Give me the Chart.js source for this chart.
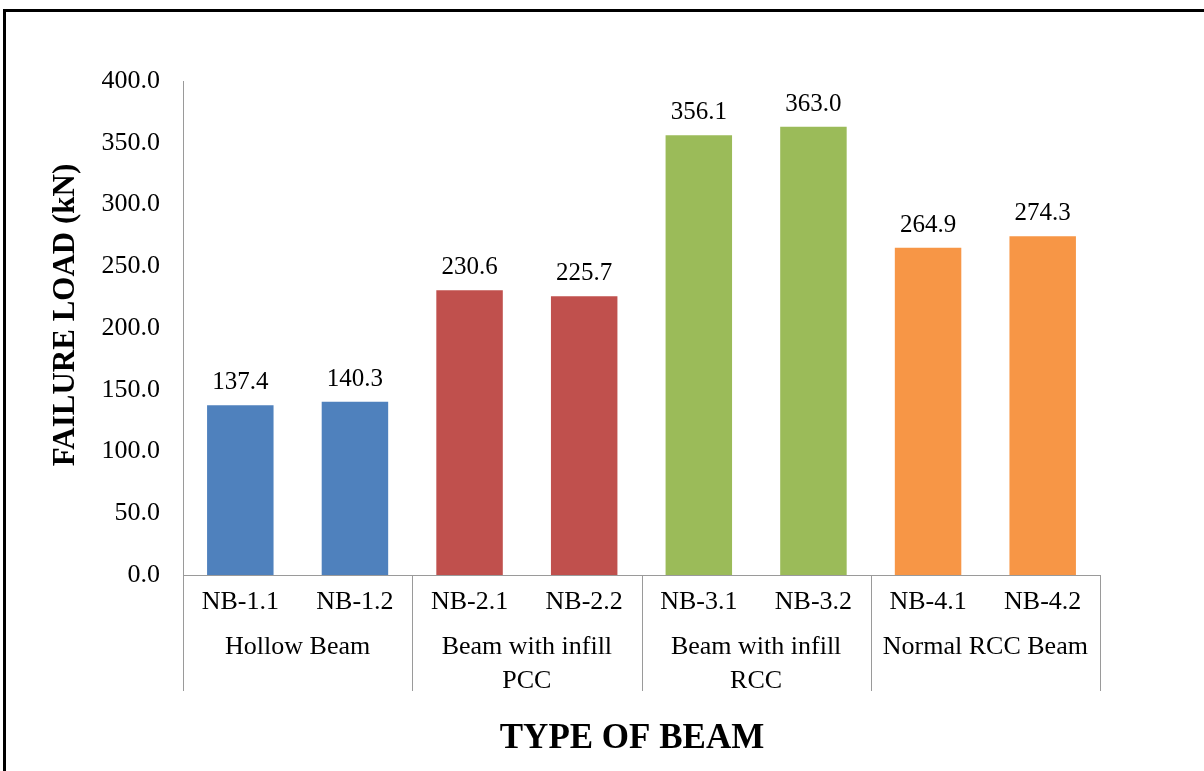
<!DOCTYPE html>
<html>
<head>
<meta charset="utf-8">
<script src="https://cdn.jsdelivr.net/npm/chart.js@4/dist/chart.umd.min.js"></script>
<style>
  html, body { margin: 0; padding: 0; background: #fff; }
  #wrap { position: relative; width: 1204px; height: 771px; overflow: hidden; }
  #frame { position: absolute; left: 3px; top: 9px; width: 1300px; height: 900px;
           border-left: 3px solid #000; border-top: 3px solid #000; pointer-events: none; }
  canvas { position: absolute; left: 0; top: 0; }
</style>
</head>
<body>
<div id="wrap">
  <canvas id="c" width="1204" height="771"></canvas>
  <div id="frame"></div>
</div>
<script>
// Beam specimens and their failure loads (kN)
const specimens = ['NB-1.1', 'NB-1.2', 'NB-2.1', 'NB-2.2', 'NB-3.1', 'NB-3.2', 'NB-4.1', 'NB-4.2'];
const failureLoad = [137.4, 140.3, 230.6, 225.7, 356.1, 363.0, 264.9, 274.3];
// Beam types, each covering two specimens
const beamTypes = [['Hollow Beam'], ['Beam with infill', 'PCC'], ['Beam with infill', 'RCC'], ['Normal RCC Beam']];
const specimensPerType = 2;
const typeColors = ['#4F81BD', '#C0504D', '#9BBB59', '#F79646'];
const yTicks = [0, 50, 100, 150, 200, 250, 300, 350, 400];

const barColors = specimens.map((_, i) => typeColors[Math.floor(i / specimensPerType)]);
const SERIF = '"Liberation Serif", "Times New Roman", serif';
const AXIS_GRAY = '#9a9a9a';

// Values above the bars, beam-type labels with separators, and the axis titles
const annotate = {
  id: 'annotate',
  afterDraw(chart) {
    const ctx = chart.ctx;
    const area = chart.chartArea;
    const x = chart.scales.x;
    const meta = chart.getDatasetMeta(0);

    ctx.save();
    ctx.fillStyle = '#000';
    ctx.textAlign = 'center';
    ctx.textBaseline = 'alphabetic';
    ctx.font = '25px ' + SERIF;
    meta.data.forEach((bar, i) => {
      ctx.fillText(failureLoad[i].toFixed(1), bar.x, bar.y - 16);
    });

    // group separators under the axis
    const half = (x.getPixelForValue(1) - x.getPixelForValue(0)) / 2;
    ctx.strokeStyle = AXIS_GRAY;
    ctx.lineWidth = 1;
    for (let g = 0; g <= beamTypes.length; g++) {
      const idx = g * specimensPerType;
      const px = Math.round(x.getPixelForValue(Math.min(idx, specimens.length - 1)) + (idx >= specimens.length ? half : -half)) + 0.5;
      ctx.beginPath();
      ctx.moveTo(px, area.bottom);
      ctx.lineTo(px, 691);
      ctx.stroke();
    }

    ctx.textBaseline = 'middle';
    ctx.font = '26px ' + SERIF;
    beamTypes.forEach((lines, g) => {
      const a = x.getPixelForValue(g * specimensPerType);
      const b = x.getPixelForValue(g * specimensPerType + specimensPerType - 1);
      const cx = (a + b) / 2;
      lines.forEach((t, k) => ctx.fillText(t, cx, 647 + k * 34));
    });

    // axis titles
    ctx.font = 'bold 35px ' + SERIF;
    ctx.textBaseline = 'alphabetic';
    ctx.fillText('TYPE OF BEAM', 632, 748);

    ctx.translate(66, 315);
    ctx.rotate(-Math.PI / 2);
    ctx.textBaseline = 'middle';
    ctx.font = 'bold 31px ' + SERIF;
    ctx.fillText('FAILURE LOAD (kN)', 0, 0);
    ctx.restore();
  }
};

new Chart(document.getElementById('c'), {
  type: 'bar',
  data: {
    labels: specimens,
    datasets: [{
      data: failureLoad,
      backgroundColor: barColors,
      borderWidth: 0,
      categoryPercentage: 1,
      barPercentage: 0.58
    }]
  },
  options: {
    responsive: false,
    animation: false,
    devicePixelRatio: 1,
    layout: { padding: { top: 81, right: 104, left: 0, bottom: 0 } },
    plugins: { legend: { display: false }, tooltip: { enabled: false } },
    scales: {
      x: {
        grid: { display: false, drawTicks: false },
        border: { display: true, color: AXIS_GRAY, width: 1 },
        ticks: {
          color: '#000', font: { family: SERIF, size: 26 },
          padding: 12, maxRotation: 0, autoSkip: false
        },
        afterFit(scale) { scale.height = 771 - 575; }
      },
      y: {
        min: 0, max: 400,
        afterBuildTicks(scale) { scale.ticks = yTicks.map(v => ({ value: v })); },
        grid: { display: false, drawTicks: false },
        border: { display: true, color: AXIS_GRAY, width: 1 },
        ticks: {
          color: '#000', font: { family: SERIF, size: 26 }, padding: 23,
          callback: v => Number(v).toFixed(1)
        },
        afterFit(scale) { scale.width = 183; }
      }
    }
  },
  plugins: [annotate]
});
</script>
</body>
</html>
